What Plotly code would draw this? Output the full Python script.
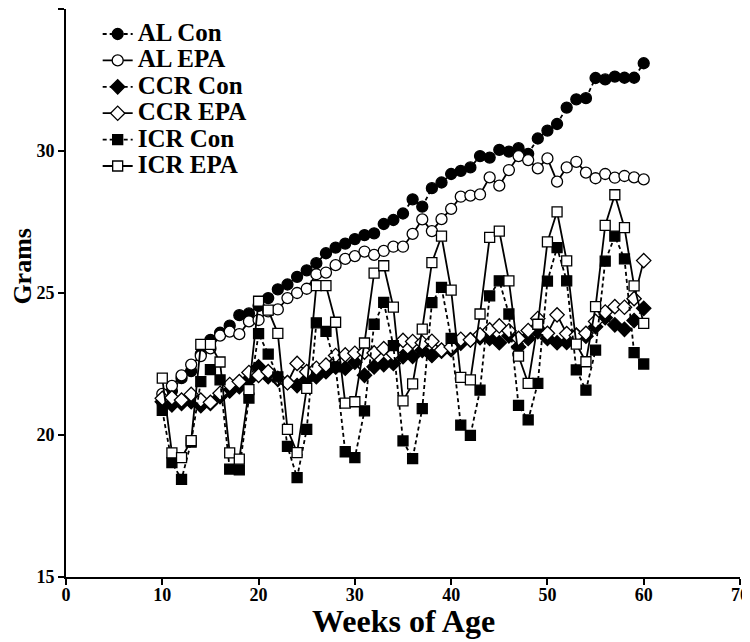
import plotly.graph_objects as go

weeks = [10, 11, 12, 13, 14, 15, 16, 17, 18, 19, 20, 21, 22, 23, 24, 25, 26, 27, 28, 29,
         30, 31, 32, 33, 34, 35, 36, 37, 38, 39, 40, 41, 42, 43, 44, 45, 46, 47, 48, 49,
         50, 51, 52, 53, 54, 55, 56, 57, 58, 59, 60]

al_con = [21.15, 21.55, 22.0, 22.25, 22.85, 23.35, 23.6, 23.85, 24.22, 24.28,
          24.55, 24.82, 25.13, 25.3, 25.57, 25.8, 26.05, 26.4, 26.6, 26.74,
          26.9, 27.04, 27.1, 27.43, 27.57, 27.8, 28.3, 28.04, 28.69, 28.89,
          29.19, 29.3, 29.42, 29.82, 29.77, 30.04, 29.98, 30.1, 29.9, 30.44,
          30.72, 30.95, 31.53, 31.82, 31.86, 32.57, 32.52, 32.62, 32.58, 32.58, 33.09]

al_epa = [21.45, 21.73, 22.1, 22.48, 22.78, 23.05, 23.5, 23.64, 23.55, 24.0,
          24.05, 24.35, 24.42, 24.82, 25.0, 25.15, 25.66, 25.72, 25.98, 26.2,
          26.3, 26.46, 26.34, 26.48, 26.63, 26.63, 27.08, 27.59, 27.18, 27.6,
          27.96, 28.39, 28.43, 28.47, 29.07, 28.78, 29.33, 29.82, 29.68, 29.39,
          29.74, 28.92, 29.42, 29.62, 29.24, 29.04, 29.19, 29.06, 29.12, 29.07, 29.0]

ccr_con = [21.17, 21.06, 21.11, 21.17, 21.03, 21.11, 21.35, 21.55, 21.7, 21.94,
           22.4, 22.05, 21.96, 21.85, 21.74, 21.95, 22.05, 22.23, 22.4, 22.35,
           22.56, 22.1, 22.4, 22.48, 22.52, 22.76, 22.77, 22.98, 22.8, 22.95,
           23.0, 23.23, 23.35, 23.43, 23.4, 23.25, 23.49, 23.1, 23.4, 23.64,
           23.4, 23.25, 23.26, 23.52, 23.48, 23.81, 24.13, 23.88, 23.72, 24.03, 24.46]

ccr_epa = [21.29, 21.31, 21.23, 21.43, 21.23, 21.15, 21.47, 21.78, 21.88, 22.2,
           22.1, 22.23, 22.0, 21.84, 22.52, 22.23, 22.35, 22.46, 22.8, 22.82,
           22.88, 22.92, 22.89, 23.04, 22.86, 23.33, 23.29, 23.25, 23.3, 22.99,
           23.1, 23.37, 23.35, 23.53, 23.7, 23.84, 23.67, 23.4, 23.68, 24.1,
           23.58, 24.23, 23.57, 23.5, 23.58, 24.0, 24.33, 24.52, 24.5, 24.8, 26.14]

icr_con = [20.87, 19.03, 18.44, 19.75, 21.88, 22.3, 21.94, 18.8, 18.77, 21.3,
           23.57, 22.85, 22.05, 19.6, 18.5, 20.2, 23.95, 23.65, 22.4, 19.41,
           19.2, 20.85, 23.9, 24.67, 23.15, 19.79, 19.17, 20.93, 24.66, 25.2,
           23.4, 20.35, 19.99, 21.58, 24.9, 25.43, 24.26, 21.04, 20.53, 21.82,
           25.42, 26.6, 25.43, 22.29, 21.58, 22.99, 26.12, 27.0, 26.2, 22.9, 22.5]

icr_epa = [22.0, 19.37, 19.2, 19.8, 23.19, 23.19, 22.57, 19.37, 19.15, 21.6,
           24.71, 24.4, 23.58, 20.2, 19.38, 21.64, 25.26, 25.26, 23.97, 21.12,
           21.17, 23.24, 25.7, 25.96, 24.5, 21.2, 21.8, 23.73, 26.07, 27.0,
           25.1, 22.03, 21.94, 24.26, 26.96, 27.18, 25.43, 22.78, 21.82, 23.9,
           26.8, 27.86, 26.13, 23.2, 22.58, 24.52, 27.38, 28.46, 27.3, 25.25, 23.93]

x_ticks = [0, 10, 20, 30, 40, 50, 60, 70]
y_ticks = [15, 20, 25, 30, 35]

series = [
    ("AL Con", al_con, "circle", "black", "4px,3px"),
    ("AL EPA", al_epa, "circle", "white", "solid"),
    ("CCR Con", ccr_con, "diamond", "black", "4px,3px"),
    ("CCR EPA", ccr_epa, "diamond", "white", "solid"),
    ("ICR Con", icr_con, "square", "black", "4px,3px"),
    ("ICR EPA", icr_epa, "square", "white", "solid"),
]

FONT = "Liberation Serif"

fig = go.Figure()
for name, vals, sym, fill, dash in series:
    fig.add_trace(go.Scatter(
        x=weeks, y=vals, mode="lines+markers",
        name='<span style="font-size:25px">' + name + '</span>',
        line=dict(color="black", width=1.8, dash=dash),
        marker=dict(symbol=sym, size=11 if sym != "square" else 10, color=fill,
                    line=dict(color="black", width=1.3)),
    ))

# The page body has an 8px margin, so the figure is sized/offset to compensate.
fig.update_layout(
    width=742, height=634,
    margin=dict(l=58, r=10, t=1, b=65, autoexpand=False),
    paper_bgcolor="white", plot_bgcolor="white",
    font=dict(family=FONT, color="black", weight="bold"),
    showlegend=True,
    legend=dict(x=0.047, y=0.988, xanchor="left", yanchor="top",
                font=dict(family=FONT, size=18, color="black", weight="bold"),
                bgcolor="rgba(0,0,0,0)", tracegroupgap=0, itemwidth=30),
    annotations=[
        dict(text="Weeks of Age", xref="paper", yref="paper", x=0.5, y=-0.042,
             xanchor="center", yanchor="top", showarrow=False,
             font=dict(family=FONT, size=32, color="black", weight="bold")),
        dict(text="Grams", xref="paper", yref="paper", x=-0.064, y=0.548,
             xanchor="center", yanchor="middle", textangle=-90, showarrow=False,
             font=dict(family=FONT, size=26, color="black", weight="bold")),
    ],
)
fig.update_xaxes(
    range=[0, 70], tickvals=x_ticks, ticktext=[str(v) for v in x_ticks],
    showline=True, linecolor="black", linewidth=2, automargin=False,
    ticks="outside", ticklen=6, tickwidth=2, tickcolor="black",
    ticklabelstandoff=-6,
    showgrid=False, zeroline=False,
    tickfont=dict(family=FONT, size=18, color="black", weight="bold"),
)
fig.update_yaxes(
    range=[15, 35], tickvals=y_ticks, ticktext=[str(v) for v in y_ticks],
    showline=True, linecolor="black", linewidth=2, automargin=False,
    ticks="outside", ticklen=6, tickwidth=2, tickcolor="black",
    showgrid=False, zeroline=False,
    tickfont=dict(family=FONT, size=18, color="black", weight="bold"),
)

fig.write_html("out.html")
